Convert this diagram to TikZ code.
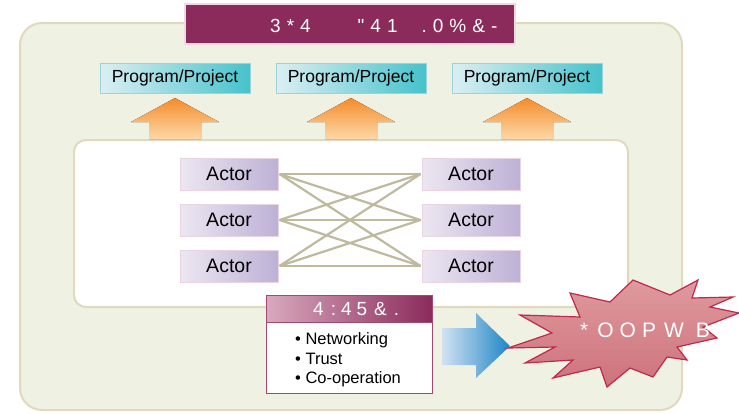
\documentclass[tikz,border=0pt]{standalone}
\usepackage{fontspec}
\setmainfont{Liberation Sans}
\newfontfamily\plainsans{Liberation Sans}
\usetikzlibrary{shadings}
\definecolor{outerfill}{HTML}{EFF2E2}
\definecolor{outerline}{HTML}{E2D8BC}
\definecolor{maroon}{HTML}{8A2B5B}
\definecolor{maroonlight}{HTML}{D9A9BE}
\definecolor{titleline}{HTML}{F0D8E4}
\definecolor{progL}{HTML}{DCEFF3}
\definecolor{progR}{HTML}{46C2CC}
\definecolor{progline}{HTML}{9AD4DA}
\definecolor{orT}{HTML}{F48C2A}
\definecolor{orB}{HTML}{FCD8A8}
\definecolor{actL}{HTML}{ECE7F1}
\definecolor{actR}{HTML}{BDB1D6}
\definecolor{actline}{HTML}{EAD4E2}
\definecolor{linkc}{HTML}{BFBA9E}
\definecolor{sysline}{HTML}{A04A72}
\definecolor{blueL}{HTML}{D2E2F2}
\definecolor{blueR}{HTML}{1E86C6}
\definecolor{starT}{HTML}{DE9A9E}
\definecolor{starB}{HTML}{CE727C}
\definecolor{starline}{HTML}{C0284C}
\tikzset{
  prog/.style={draw=progline, line width=0.8pt, left color=progL, right color=progR,
    minimum width=150pt, minimum height=30pt, inner sep=0pt,
    font=\fontsize{17.5}{20}\selectfont},
  actor/.style={draw=actline, line width=1pt, left color=actL, right color=actR,
    minimum width=98pt, minimum height=32pt, inner sep=0pt,
    font=\fontsize{19.5}{22}\selectfont},
  link/.style={draw=linkc, line width=2.2pt},
  uparrow/.style={top color=orT, bottom color=orB, draw=none},
  bullet/.style={anchor=base west, inner sep=0pt, font=\fontsize{16.5}{18}\selectfont},
  whitetext/.style={text=white, inner sep=0pt},
}
\begin{document}
\begin{tikzpicture}[x=1pt,y=-1pt]
\useasboundingbox (0,0) rectangle (739,413);
% outer box
\draw[draw=outerline, fill=outerfill, line width=2pt, rounded corners=22pt] (20,23) rectangle (682,410);
% title
\node[draw=titleline, line width=1.5pt, fill=maroon, minimum width=330pt, minimum height=40pt, inner sep=0pt] (title) at (350,24) {};
\node[whitetext, anchor=base west, font=\plainsans\fontsize{19}{22}\selectfont] (titletext) at (270,32)
  {3\hspace{6pt}*\hspace{6pt}4\hspace{47pt}"\hspace{6pt}4\hspace{6pt}1\hspace{24pt}.\hspace{6pt}0\hspace{6pt}\%\hspace{6pt}\&\hspace{6pt}-};
% program boxes
\node[prog] (p1) at (175,78) {Program/Project};
\node[prog] (p2) at (351,78) {Program/Project};
\node[prog] (p3) at (527,78) {Program/Project};
% inner box
\draw[draw=outerline, fill=white, line width=2pt, rounded corners=12pt] (74,140) rectangle (628,307);
% orange arrows
\foreach \c in {175,351,527}{
  \fill[uparrow] (\c,98) -- (\c+44,122) -- (\c+26,122) -- (\c+26,139) -- (\c-26,139) -- (\c-26,122) -- (\c-44,122) -- cycle;
}
% actors
\node[actor] (a1) at (229,174) {Actor};
\node[actor] (a2) at (229,220) {Actor};
\node[actor] (a3) at (229,266) {Actor};
\node[actor] (b1) at (471,174) {Actor};
\node[actor] (b2) at (471,220) {Actor};
\node[actor] (b3) at (471,266) {Actor};
\foreach \a in {a1,a2,a3}{
  \foreach \b in {b1,b2,b3}{
    \draw[link] ([xshift=1pt]\a.east) -- ([xshift=-1pt]\b.west);
  }
}
% system box
\node[draw=sysline, line width=0.8pt, fill=white, minimum width=166pt, minimum height=98pt, inner sep=0pt] (sysb) at (349,344) {};
\node[draw=sysline, line width=0.8pt, left color=maroonlight, right color=maroon, minimum width=166pt, minimum height=27pt, inner sep=0pt] (sysh) at (349,308.5) {};
\node[whitetext, anchor=base west, font=\fontsize{19}{22}\selectfont] (systext) at (313,315)
  {4\hspace{7pt}:\hspace{5pt}4\hspace{5pt}5\hspace{7pt}\&\hspace{7pt}.};
\node[bullet] (bl1) at (295,344) {• Networking};
\node[bullet] (bl2) at (295,364) {• Trust};
\node[bullet] (bl3) at (295,383) {• Co-operation};
% blue arrow
\shade[left color=blueL, right color=blueR] (442,328) -- (476,328) -- (476,313) -- (510,346) -- (476,378) -- (476,365) -- (442,365) -- cycle;
% star
\draw[draw=starline, line width=1.2pt, top color=starT, bottom color=starB]
  (508,348) -- (555,347) -- (525,363) -- (573,360) -- (553,378) -- (600,367) -- (607,387)
  -- (630,368) -- (653,377) -- (667,357) -- (687,360) -- (677,347) -- (717,338) -- (703,327)
  -- (739,313) -- (710,307) -- (733,297) -- (692,298) -- (698,280) -- (670,295) -- (633,280)
  -- (610,302) -- (570,293) -- (580,317) -- (520,315) -- (552,333) -- cycle;
\node[whitetext, anchor=base west, font=\fontsize{21}{24}\selectfont] (startext) at (580,337)
  {*\hspace{9pt}O\hspace{6pt}O\hspace{6pt}P\hspace{8pt}W\hspace{12pt}B};
\end{tikzpicture}
\end{document}
